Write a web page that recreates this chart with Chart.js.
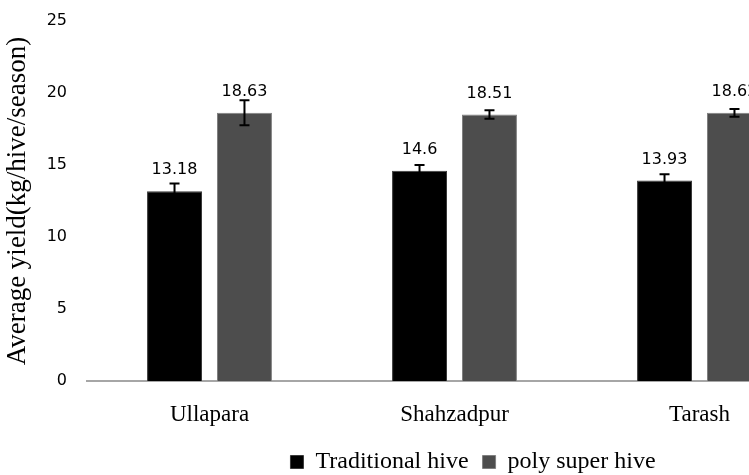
<!DOCTYPE html>
<html>
<head>
<meta charset="utf-8">
<script src="https://cdn.jsdelivr.net/npm/chart.js@4"></script>
<style>
  html, body { margin: 0; padding: 0; background: #fff; overflow: hidden; }
  #wrap { width: 749px; height: 475px; overflow: hidden; }
</style>
</head>
<body>
<div id="wrap"><canvas id="yieldChart" width="830" height="475"></canvas></div>
<script>
// data
const locations = ['Ullapara', 'Shahzadpur', 'Tarash'];
const traditionalHive = [13.18, 14.6, 13.93];
const traditionalErr = [0.53, 0.4, 0.42];
const polySuperHive = [18.63, 18.51, 18.62];
const polyErr = [0.87, 0.29, 0.27];
const yTicks = [0, 5, 10, 15, 20, 25];

const errors = [traditionalErr, polyErr];

// error bars + value labels, drawn through the chart's own scales
const errorBarPlugin = {
  id: 'errorBars',
  afterLayout(chart) {
    // the legend sits right of centre and a bit lower in the reference
    chart.legend.left += 62;
    chart.legend.right += 62;
    chart.legend.top += 9;
    chart.legend.bottom += 9;
  },
  afterDatasetsDraw(chart) {
    const ctx = chart.ctx;
    const y = chart.scales.y;
    chart.data.datasets.forEach((ds, di) => {
      const meta = chart.getDatasetMeta(di);
      meta.data.forEach((bar, i) => {
        const v = ds.data[i];
        const e = errors[di][i];
        const top = y.getPixelForValue(v + e);
        const bot = y.getPixelForValue(v - e);
        ctx.save();
        ctx.strokeStyle = '#000';
        ctx.lineWidth = 2;
        ctx.beginPath();
        ctx.moveTo(bar.x, top);
        ctx.lineTo(bar.x, bot);
        ctx.moveTo(bar.x - 5, top);
        ctx.lineTo(bar.x + 5, top);
        ctx.moveTo(bar.x - 5, bot);
        ctx.lineTo(bar.x + 5, bot);
        ctx.stroke();
        // value label
        ctx.fillStyle = '#000';
        ctx.font = '16px "DejaVu Sans"';
        ctx.textAlign = 'center';
        ctx.textBaseline = 'middle';
        ctx.fillText(String(v), bar.x, y.getPixelForValue(v) - 21);
        ctx.restore();
      });
    });
  }
};

new Chart(document.getElementById('yieldChart').getContext('2d'), {
  type: 'bar',
  data: {
    labels: locations,
    datasets: [
      {
        label: 'Traditional hive',
        data: traditionalHive,
        backgroundColor: '#000000',
        borderColor: '#3a3a3a',
        borderWidth: 1,
        categoryPercentage: 0.571,
        barPercentage: 0.786
      },
      {
        label: 'poly super hive',
        data: polySuperHive,
        backgroundColor: '#4d4d4d',
        borderColor: '#808080',
        borderWidth: 1,
        categoryPercentage: 0.571,
        barPercentage: 0.786
      }
    ]
  },
  options: {
    responsive: false,
    animation: false,
    layout: { padding: { top: 21, right: 8, left: 0, bottom: 0 } },
    scales: {
      x: {
        grid: { display: false },
        border: { display: true, color: '#a6a6a6', width: 2 },
        afterFit(scale) { scale.height = 46; },
        ticks: {
          color: '#000',
          font: { family: '"Liberation Serif"', size: 23 },
          padding: 12
        }
      },
      y: {
        min: 0,
        max: 25,
        afterBuildTicks(scale) { scale.ticks = yTicks.map(v => ({ value: v })); },
        afterFit(scale) {
          scale.width = 87;
          scale.paddingTop = 0;
          scale.paddingBottom = 0;
        },
        grid: { display: false, drawTicks: false },
        border: { display: false },
        ticks: {
          color: '#000',
          font: { family: '"DejaVu Sans"', size: 16 },
          padding: 20
        },
        title: {
          display: true,
          text: 'Average yield(kg/hive/season)',
          color: '#000',
          font: { family: '"Liberation Serif"', size: 27 },
          padding: { top: 2, bottom: 0 }
        }
      }
    },
    plugins: {
      legend: {
        position: 'bottom',
        labels: {
          color: '#000',
          font: { family: '"Liberation Serif"', size: 24 },
          boxWidth: 13,
          boxHeight: 13,
          padding: 14
        }
      },
      tooltip: { enabled: false }
    }
  },
  plugins: [errorBarPlugin]
});
</script>
</body>
</html>
